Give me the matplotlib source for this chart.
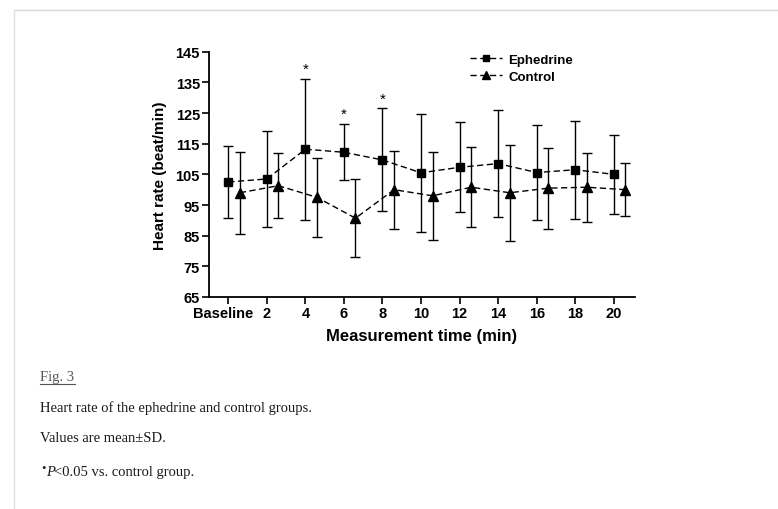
import matplotlib
matplotlib.use("Agg")
import matplotlib.pyplot as plt
from matplotlib.lines import Line2D
import matplotlib.transforms as mtransforms
import numpy as np

# ---- data ----
time_minutes = [0, 2, 4, 6, 8, 10, 12, 14, 16, 18, 20]
time_labels = ["Baseline", "2", "4", "6", "8", "10", "12", "14", "16", "18", "20"]
eph_mean = [102.5, 103.5, 113.2, 112.2, 109.7, 105.5, 107.3, 108.5, 105.6, 106.5, 105.0]
eph_sd = [11.7, 15.8, 23.0, 9.2, 16.8, 19.2, 14.7, 17.5, 15.6, 16.0, 12.9]
ctl_mean = [99.0, 101.3, 97.5, 90.7, 100.0, 98.0, 100.8, 99.0, 100.5, 100.8, 100.0]
ctl_sd = [13.3, 10.5, 12.8, 12.7, 12.7, 14.3, 13.0, 15.6, 13.2, 11.2, 8.6]
significant = [False, False, True, True, True, False, False, False, False, False, False]
y_ticks = [65, 75, 85, 95, 105, 115, 125, 135, 145]

plt.rcParams['font.family'] = ['Liberation Sans', 'DejaVu Sans']

fig = plt.figure(figsize=(7.78, 5.10), dpi=100)
fig.patch.set_facecolor('white')

# faint page border
fig.add_artist(Line2D([14/778, 1.0], [1-11/510, 1-11/510], color='#d9d9d9', lw=1.0))
fig.add_artist(Line2D([14/778, 14/778], [0.0, 1-11/510], color='#e2e2e2', lw=1.0))

ax = fig.add_axes([209/778, 1-298/510, (635-209)/778, (298-52.7)/510])

x = np.array(time_minutes, dtype=float)
ctl_off = 0.6
dash = (0, (4.5, 2.5))

ax.errorbar(x, eph_mean, yerr=eph_sd, fmt='none', ecolor='black', elinewidth=1.0,
            capsize=3.5, capthick=1.0, zorder=2)
ax.plot(x, eph_mean, linestyle=dash, color='black', lw=1.0, marker='s', ms=6,
        mfc='black', mec='black', zorder=3, label='Ephedrine')

ax.errorbar(x + ctl_off, ctl_mean, yerr=ctl_sd, fmt='none', ecolor='black', elinewidth=1.0,
            capsize=3.5, capthick=1.0, zorder=2)
ax.plot(x + ctl_off, ctl_mean, linestyle=dash, color='black', lw=1.0, marker='^', ms=6.5,
        mfc='black', mec='black', zorder=3, label='Control')

for xi, m, s, sig in zip(x, eph_mean, eph_sd, significant):
    if sig:
        ax.text(xi, m + s + 1.0, '*', ha='center', va='bottom', fontsize=11)

ax.set_xlim(-1.0, 21.1)
ax.set_ylim(65, 145)
ax.set_xticks(x)
ax.set_xticklabels(time_labels)
ax.set_yticks(y_ticks)
ax.set_yticklabels([str(v) for v in y_ticks])

for sp in ['top', 'right']:
    ax.spines[sp].set_visible(False)
for sp in ['left', 'bottom']:
    ax.spines[sp].set_linewidth(1.3)
ax.tick_params(direction='out', length=5, width=1.2, pad=1.5, labelsize=10.5)
for lab in ax.get_xticklabels() + ax.get_yticklabels():
    lab.set_fontweight('bold')
# nudge "Baseline" slightly left as in the reference
bl = ax.get_xticklabels()[0]
bl.set_transform(bl.get_transform() + mtransforms.ScaledTranslation(-5/100, 0, fig.dpi_scale_trans))

ax.set_xlabel('Measurement time (min)', fontsize=12, fontweight='bold', labelpad=6)
ax.set_ylabel('Heart rate (beat/min)', fontsize=11, fontweight='bold', labelpad=6)

leg = ax.legend(loc='upper left', bbox_to_anchor=(458/778, 1-43/510),
                bbox_transform=fig.transFigure, frameon=False, fontsize=9.5,
                handlelength=2.4, handletextpad=0.5, labelspacing=0.35, markerscale=0.8)
for t in leg.get_texts():
    t.set_fontweight('bold')

# caption
serif = ['Liberation Serif', 'DejaVu Serif']
fig.text(40/778, 1-378/510, 'Fig. 3', family=serif, fontsize=10.5, color='#555555',
         va='center', ha='left')
fig.add_artist(Line2D([40/778, 75/778], [1-385/510, 1-385/510], color='#555555', lw=0.8))
fig.text(40/778, 1-408/510, 'Heart rate of the ephedrine and control groups.',
         family=serif, fontsize=10.5, color='#1a1a1a', va='center', ha='left')
fig.text(40/778, 1-439/510, 'Values are mean\u00b1SD.',
         family=serif, fontsize=10.5, color='#1a1a1a', va='center', ha='left')
fig.text(40/778, 1-473/510, r'$^{\bullet}$', family=serif, fontsize=10.5, color='#1a1a1a',
         va='center', ha='left')
fig.text(46/778, 1-473/510, 'P', family=serif, style='italic', fontsize=10.5,
         color='#1a1a1a', va='center', ha='left')
fig.text(54/778, 1-473/510, '<0.05 vs. control group.', family=serif, fontsize=10.5,
         color='#1a1a1a', va='center', ha='left')

fig.savefig('out.png', dpi=100, facecolor='white')
